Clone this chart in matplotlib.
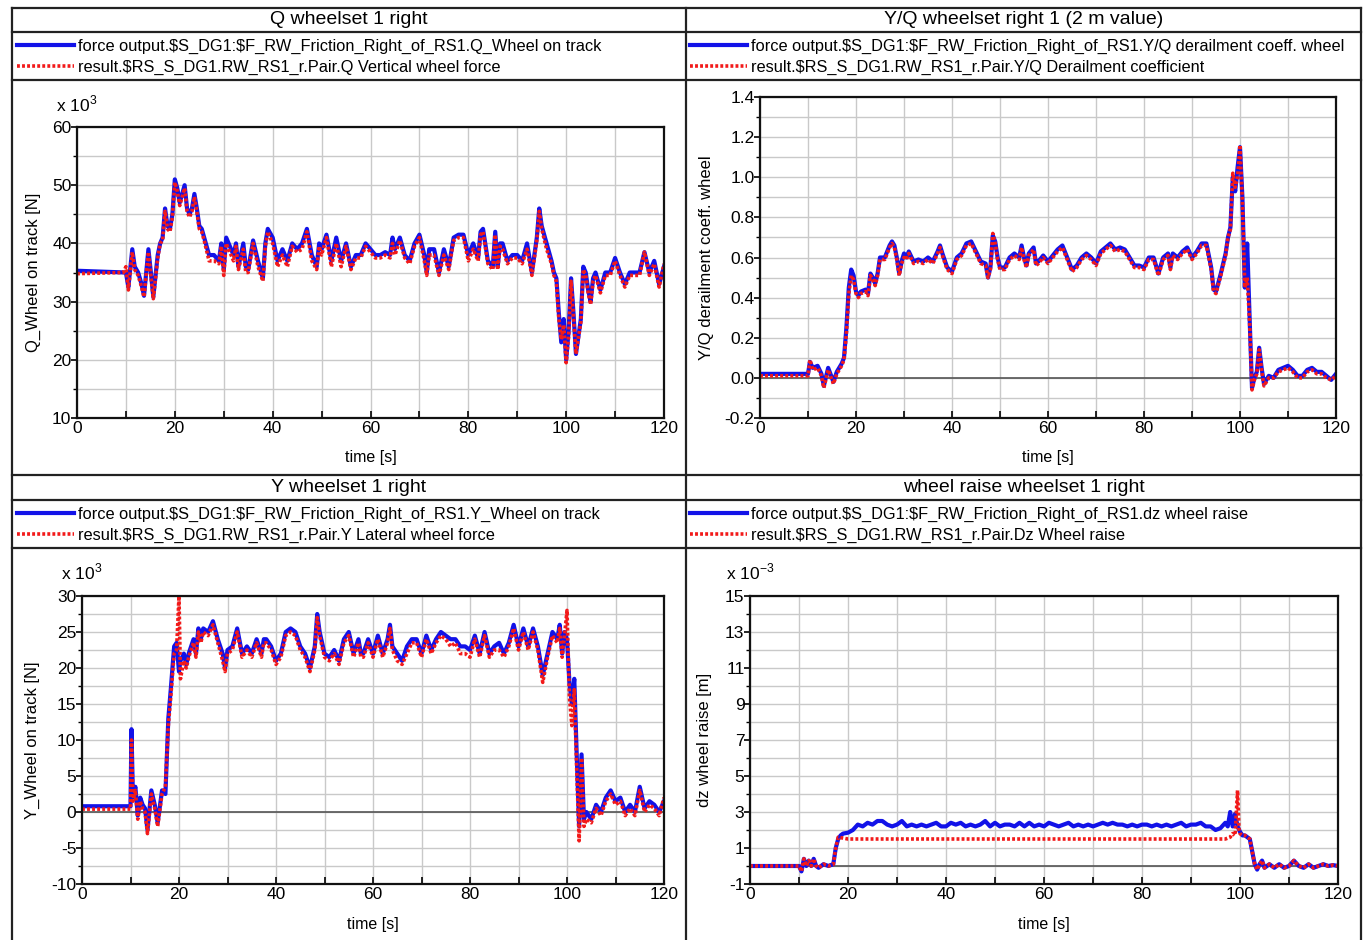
import numpy as np
import matplotlib.pyplot as plt
from matplotlib.lines import Line2D
from matplotlib.transforms import blended_transform_factory

W, H = 1364, 940

# ---- data (values as shown on the axes: Q, Y in 10^3 N, dz in 10^-3 m) ----
t_q = [0, 9.5, 10, 10.5, 11, 11.3, 11.8, 12.5, 13.2, 13.7,
       14.6, 15.1, 15.6, 16.5, 17, 17.5, 18, 18.5, 19, 19.5,
       20, 20.5, 21, 22, 22.5, 23, 23.5, 24, 24.5, 25,
       25.5, 26, 27, 28, 29, 29.5, 30, 30.5, 31, 32,
       32.5, 33, 34, 34.5, 35, 36, 37, 38, 38.5, 39,
       40, 41, 42, 43, 44, 45, 46, 47, 48, 49,
       49.5, 50, 51, 52, 53, 54, 55, 56, 57, 58,
       59, 60, 61, 62, 63, 64, 64.5, 65, 66, 67,
       68, 69, 70, 71, 71.5, 72, 73, 74, 75, 76,
       77, 78, 79, 80, 81, 82, 82.5, 83, 84, 85,
       85.5, 86, 86.5, 87, 88, 89, 90, 91, 92, 93,
       94, 94.5, 95, 96, 97, 97.5, 98, 98.5, 99, 99.5,
       100, 100.5, 101, 101.5, 102, 103, 103.5, 104, 104.5, 105,
       105.5, 106, 107, 108, 109, 110, 111, 112, 113, 114,
       115, 116, 117, 118, 119, 120]
q_blue = [35.3, 35, 35, 32.5, 36.5, 39, 36, 35, 33, 31,
          39, 35, 30.8, 38, 40, 41, 46, 43, 42.5, 45,
          51, 49.5, 47, 50, 46, 45, 46, 48.5, 46, 43,
          42.5, 41, 38, 38, 37, 40, 35.5, 41, 40, 38,
          40, 36, 40, 36, 35.5, 40.5, 37, 34, 40, 42.5,
          41, 37, 39, 37, 40, 39, 40, 42.5, 38, 36,
          40, 39, 41.5, 37, 41, 37, 40, 36, 38, 38,
          40, 39, 38, 38, 38.5, 38, 41, 39, 41, 38,
          37, 40, 41.5, 38, 35, 39, 39, 35, 39, 36,
          41, 41.5, 41.5, 38, 40, 37.5, 42, 42.5, 37, 36,
          42, 36, 40, 40, 37, 38, 38, 37, 40, 35,
          41, 46, 43, 40, 37, 35, 34, 28, 23, 27,
          20, 25, 34, 28, 21, 27, 36, 35, 32, 30,
          34, 35, 32, 35, 35, 37.5, 35, 33, 35, 35,
          35, 38.5, 35, 37, 33, 36]
q_red = [34.8, 35, 36, 32, 36, 38.5, 35.5, 34.5, 32.5, 30.8,
         38.5, 34.5, 30.5, 37.5, 40, 40.5, 45.5, 42.5, 42, 44.5,
         50.5, 49, 46.5, 49.5, 45.5, 44.5, 45.5, 48, 45.5, 42.5,
         42, 40.5, 37, 37, 36.5, 39.5, 34.5, 40, 39, 37,
         39.5, 35.5, 39, 35, 35, 40, 36, 33.5, 39.5, 42,
         40, 36, 38, 36, 39.5, 38.5, 39, 42, 37, 35.5,
         39.5, 38, 41, 36, 40, 36, 39.5, 35.5, 37.5, 37.5,
         39.5, 38.5, 37.5, 37.5, 38, 37.5, 40, 38, 40.5, 37.5,
         36.5, 39.5, 41, 37, 34.5, 38, 38, 34.5, 38, 35.5,
         40.5, 41, 41, 37, 39, 37, 41.5, 42, 36.5, 35.5,
         41.5, 35.5, 39.5, 39, 36.5, 37.5, 37.5, 36.5, 39, 34.5,
         40.5, 45.5, 42.5, 39, 36.5, 34.5, 33.5, 27, 23.5, 26,
         19.5, 24, 33.5, 27.5, 21, 26.5, 35.5, 34.5, 31.5, 29.5,
         33.5, 34.5, 31.5, 34.5, 34.5, 37, 34.5, 32.5, 34.5, 34.5,
         34.5, 38.5, 34.5, 36.5, 32.5, 36.5]

t_yq = [0, 10, 10.4, 11, 12, 12.8, 13.3, 14.2, 15.3, 16,
        17, 17.5, 18, 18.5, 19, 19.5, 20, 20.5, 21, 22,
        22.5, 23, 23.5, 24, 24.5, 25, 26, 27, 27.5, 28,
        28.5, 29, 29.5, 30, 30.5, 31, 32, 33, 34, 35,
        36, 37, 37.5, 38, 39, 40, 41, 42, 43, 44,
        45, 46, 47, 47.5, 48, 48.5, 49, 49.5, 50, 51,
        52, 53, 54, 54.5, 55, 55.5, 56, 57, 57.5, 58,
        59, 60, 61, 62, 63, 64, 65, 66, 67, 68,
        69, 70, 71, 72, 73, 74, 75, 76, 77, 78,
        79, 80, 81, 82, 83, 84, 85, 85.5, 86, 87,
        88, 89, 90, 91, 92, 93, 94, 94.5, 95, 96,
        97, 97.5, 98, 98.5, 99, 99.5, 100, 100.5, 101, 101.5,
        102, 102.5, 103, 103.5, 104, 104.5, 105, 106, 107, 108,
        109, 110, 111, 112, 113, 114, 115, 116, 117, 118,
        119, 120]
yq_blue = [0.02, 0.02, 0.08, 0.05, 0.06, 0.02, -0.04, 0.05, -0.02, 0.03,
           0.07, 0.1, 0.25, 0.45, 0.54, 0.51, 0.43, 0.41, 0.43, 0.44,
           0.42, 0.52, 0.50, 0.47, 0.52, 0.6, 0.6, 0.66, 0.68, 0.66,
           0.6, 0.52, 0.58, 0.62, 0.6, 0.63, 0.58, 0.59, 0.58, 0.6,
           0.58, 0.63, 0.66, 0.62, 0.55, 0.53, 0.6, 0.62, 0.67, 0.68,
           0.63, 0.58, 0.57, 0.5, 0.55, 0.71, 0.68, 0.6, 0.55, 0.55,
           0.6, 0.62, 0.6, 0.66, 0.6, 0.56, 0.62, 0.65, 0.57, 0.58,
           0.61, 0.58, 0.61, 0.64, 0.66, 0.6, 0.54, 0.56, 0.6, 0.62,
           0.6, 0.57, 0.63, 0.65, 0.67, 0.64, 0.65, 0.64, 0.6, 0.56,
           0.56, 0.55, 0.6, 0.6, 0.52, 0.6, 0.62, 0.55, 0.62, 0.6,
           0.63, 0.65, 0.6, 0.63, 0.67, 0.67, 0.55, 0.44, 0.43, 0.52,
           0.62, 0.7, 0.75, 1.0, 0.93, 1.05, 1.15, 0.9, 0.45, 0.67,
           0.3, -0.05, 0.0, 0.03, 0.15, 0.05, -0.03, 0.01, 0.0, 0.04,
           0.05, 0.06, 0.04, 0.01, 0.01, 0.04, 0.05, 0.03, 0.03, 0.01,
           -0.01, 0.02]
yq_red = [0.01, 0.01, 0.09, 0.04, 0.05, 0.01, -0.05, 0.04, -0.03, 0.02,
          0.06, 0.09, 0.22, 0.42, 0.51, 0.49, 0.42, 0.40, 0.42, 0.43,
          0.41, 0.51, 0.49, 0.46, 0.51, 0.59, 0.59, 0.65, 0.67, 0.65,
          0.59, 0.51, 0.57, 0.6, 0.59, 0.62, 0.57, 0.58, 0.57, 0.59,
          0.57, 0.62, 0.65, 0.61, 0.54, 0.52, 0.59, 0.61, 0.66, 0.67,
          0.62, 0.57, 0.56, 0.5, 0.54, 0.72, 0.67, 0.59, 0.54, 0.54,
          0.59, 0.61, 0.59, 0.65, 0.59, 0.55, 0.61, 0.64, 0.56, 0.57,
          0.6, 0.57, 0.6, 0.63, 0.65, 0.59, 0.53, 0.55, 0.59, 0.61,
          0.59, 0.56, 0.62, 0.64, 0.66, 0.63, 0.64, 0.63, 0.59, 0.55,
          0.55, 0.54, 0.59, 0.59, 0.51, 0.59, 0.61, 0.54, 0.61, 0.59,
          0.62, 0.64, 0.59, 0.62, 0.66, 0.66, 0.54, 0.43, 0.42, 0.51,
          0.61, 0.7, 0.74, 1.02, 0.95, 1.0, 1.16, 0.88, 0.45, 0.5,
          0.28, -0.06, -0.01, 0.02, 0.14, 0.04, -0.04, 0.0, 0.0, 0.03,
          0.04, 0.05, 0.03, 0.0, 0.0, 0.03, 0.04, 0.02, 0.02, 0.0,
          -0.01, 0.01]

t_y = [0, 10, 10.2, 10.5, 11, 11.5, 12, 12.5, 13, 13.5,
       14.3, 15, 15.6, 16.5, 17.2, 17.8, 18.3, 19, 19.5, 20,
       20.3, 21, 21.5, 22, 23, 23.5, 24, 24.5, 25, 26,
       27, 28, 29, 29.5, 30, 31, 32, 33, 34, 35,
       36, 37, 37.5, 38, 39, 40, 41, 42, 43, 44,
       45, 46, 47, 48, 48.5, 49, 50, 51, 52, 53,
       54, 55, 56, 57, 57.5, 58, 59, 60, 61, 62,
       63, 63.5, 64, 65, 66, 67, 68, 69, 70, 71,
       72, 73, 74, 75, 76, 77, 78, 79, 80, 81,
       82, 83, 84, 85, 86, 87, 88, 89, 90, 91,
       92, 93, 94, 95, 96, 97, 98, 98.5, 99, 99.5,
       100, 100.5, 101, 101.5, 102, 102.5, 103, 103.5, 104, 105,
       106, 107, 108, 109, 110, 111, 112, 113, 114, 115,
       116, 117, 118, 119, 120]
y_blue = [0.8, 0.8, 11.5, 2, 3.5, -0.5, 2, 1, 0.5, -2.5,
          3, 1, -1.5, 3, 2.5, 13, 17, 23, 23.5, 19.5,
          21, 22, 20.5, 22, 24, 22, 25.5, 24, 25.5, 25,
          26.5, 24, 22, 20, 22.5, 23, 25.5, 22, 23, 22,
          24, 22, 24, 24, 23, 21, 22, 25, 25.5, 25,
          23, 22, 20, 23, 27.5, 25, 22, 21.5, 22.5, 21,
          24, 25, 22, 24, 22, 22, 24, 22, 24.5, 22,
          24, 26, 23, 22, 21, 23, 24, 24, 22, 24.5,
          22.5, 24, 25, 24.5, 24, 24, 23, 23, 22.5, 24.5,
          22, 25, 22, 23, 23.5, 22, 23.5, 26, 23, 25.5,
          23, 25.5, 23, 19, 22, 25, 24, 26, 22, 25,
          24, 18, 15, 18.5, 8, -2, 8, -1, 0, -1,
          1, 0, 2, 3, 1.5, 2, 0, 1, 0, 3.5,
          0.5, 1.5, 1, 0, 1.5]
y_red = [0.4, 0.4, 10, 1.5, 3, -1, 1.5, 0.5, 0, -3,
         2.5, 0.5, -2, 2.5, 3.5, 12, 16, 22, 22.5, 30,
         18.5, 21, 20, 21.5, 23.5, 21.5, 25, 23.5, 25, 24.5,
         26, 23.5, 21, 19.5, 22, 22.5, 25, 21.5, 22.5, 21.5,
         23.5, 21.5, 23.5, 23.5, 22.5, 20.5, 21.5, 24.5, 25, 24.5,
         22.5, 21.5, 19.5, 22.5, 27, 24.5, 21.5, 21, 22, 20.5,
         23.5, 24.5, 21.5, 23.5, 21.5, 21.5, 23.5, 21.5, 24, 21.5,
         23.5, 25.5, 22.5, 21, 20.5, 22, 23.5, 23.5, 21.5, 24,
         22, 23.5, 24.5, 24, 23, 23.5, 22, 22, 21.5, 24,
         21.5, 24.5, 21.5, 22.5, 22.5, 21.5, 23, 25.5, 22.5, 25,
         22.5, 25, 22.5, 18, 21.5, 24.5, 23.5, 25.5, 21.5, 24.5,
         28, 16, 12, 17, 6, -4, 7.5, -2, -1, -1.5,
         0.5, -0.5, 1.5, 2.5, 1, 1.5, -0.5, 0.5, -0.5, 3,
         0, 1, 0.5, -0.5, 2]

t_dz_blue = [0, 10, 10.5, 11, 11.5, 12, 12.5, 13, 13.5, 14,
             15, 16, 17, 17.5, 18, 18.5, 19, 20, 21, 22,
             23, 24, 25, 26, 27, 28, 29, 30, 31, 32,
             33, 34, 35, 36, 37, 38, 39, 40, 41, 42,
             43, 44, 45, 46, 47, 48, 49, 50, 51, 52,
             53, 54, 55, 56, 57, 58, 59, 60, 61, 62,
             63, 64, 65, 66, 67, 68, 69, 70, 71, 72,
             73, 74, 75, 76, 77, 78, 79, 80, 81, 82,
             83, 84, 85, 86, 87, 88, 89, 90, 91, 92,
             93, 94, 95, 96, 97, 97.5, 98, 98.5, 99, 99.5,
             100, 100.5, 101, 101.5, 102, 102.5, 103, 103.5, 104, 104.5,
             105, 106, 107, 108, 109, 110, 111, 112, 113, 114,
             115, 116, 117, 118, 119, 120]
dz_blue = [0, 0, -0.3, 0.4, 0, 0.3, 0, 0.4, 0, -0.1,
           0.1, 0, 0.1, 1.0, 1.5, 1.7, 1.8, 1.85, 2.0, 2.3,
           2.2, 2.4, 2.3, 2.5, 2.5, 2.3, 2.2, 2.3, 2.5, 2.2,
           2.3, 2.2, 2.3, 2.2, 2.3, 2.4, 2.2, 2.2, 2.4, 2.3,
           2.4, 2.2, 2.3, 2.2, 2.3, 2.5, 2.2, 2.4, 2.2, 2.3,
           2.3, 2.2, 2.4, 2.2, 2.4, 2.2, 2.3, 2.2, 2.4, 2.3,
           2.2, 2.3, 2.4, 2.2, 2.3, 2.2, 2.3, 2.2, 2.3, 2.4,
           2.3, 2.4, 2.3, 2.3, 2.2, 2.3, 2.2, 2.3, 2.3, 2.2,
           2.3, 2.2, 2.3, 2.2, 2.3, 2.4, 2.2, 2.3, 2.3, 2.4,
           2.2, 2.2, 2.0, 2.1, 2.4, 2.2, 3.0, 2.2, 2.9, 2.2,
           1.9, 1.7, 1.7, 1.6, 1.5, 0.8, 0.1, -0.2, 0.1, 0.3,
           -0.1, 0.1, -0.1, 0.1, -0.1, 0, 0.3, 0, -0.1, 0.1,
           -0.1, 0, 0.1, 0, 0.05, 0]
t_dz_red = [0, 10, 10.5, 11, 11.5, 12, 12.5, 13, 13.5, 14,
            15, 16, 17, 17.5, 18, 19, 20, 97, 98, 98.5,
            99, 99.5, 99.8, 100, 100.5, 101, 101.5, 102, 102.5, 103,
            103.5, 104, 104.5, 105, 106, 107, 108, 109, 110, 111,
            112, 113, 114, 115, 116, 117, 118, 119, 120]
dz_red = [0, 0, -0.3, 0.4, 0, 0.3, 0, 0.4, 0, -0.1,
          0.1, 0, 0.1, 1.0, 1.6, 1.55, 1.5, 1.5, 1.6, 1.8,
          1.7, 4.2, 2.0, 1.8, 1.7, 1.7, 1.6, 1.5, 0.8, 0.1,
          -0.2, 0.1, 0.3, -0.1, 0.1, -0.1, 0.1, -0.1, 0, 0.3,
          0, -0.1, 0.1, -0.1, 0, 0.1, 0, 0.05, 0]

titles = ["Q wheelset 1 right", "Y/Q wheelset right 1 (2 m value)",
          "Y wheelset 1 right", "wheel raise wheelset 1 right"]
legend_labels = [
    ["force output.$S_DG1:$F_RW_Friction_Right_of_RS1.Q_Wheel on track",
     "result.$RS_S_DG1.RW_RS1_r.Pair.Q Vertical wheel force"],
    ["force output.$S_DG1:$F_RW_Friction_Right_of_RS1.Y/Q derailment coeff. wheel",
     "result.$RS_S_DG1.RW_RS1_r.Pair.Y/Q Derailment coefficient"],
    ["force output.$S_DG1:$F_RW_Friction_Right_of_RS1.Y_Wheel on track",
     "result.$RS_S_DG1.RW_RS1_r.Pair.Y Lateral wheel force"],
    ["force output.$S_DG1:$F_RW_Friction_Right_of_RS1.dz wheel raise",
     "result.$RS_S_DG1.RW_RS1_r.Pair.Dz Wheel raise"],
]
ylabels = ["Q_Wheel on track [N]", "Y/Q derailment coeff. wheel",
           "Y_Wheel on track [N]", "dz wheel raise [m]"]


def fx(x):
    return x / W


def fy(y):
    return 1 - y / H


plt.rcParams['font.family'] = ['Liberation Sans', 'DejaVu Sans']
plt.rcParams['mathtext.fontset'] = 'custom'
plt.rcParams['mathtext.rm'] = 'Liberation Sans'

BLUE = '#1212e8'
RED = '#f21a1a'
FRAME = '#222222'

fig = plt.figure(figsize=(W / 100, H / 100), dpi=100)

# panel frames
for y in [8, 32, 80, 475, 500, 548]:
    fig.add_artist(Line2D([fx(12), fx(1361)], [fy(y), fy(y)], color=FRAME, lw=1.6))
for x in [12, 686, 1361]:
    fig.add_artist(Line2D([fx(x), fx(x)], [fy(8), fy(940)], color=FRAME, lw=1.6))

# pixel boxes: left, right, top, bottom
boxes = [(77, 664, 127, 418), (760, 1336, 97, 418),
         (82, 664, 596, 884), (750, 1338, 596, 884)]
series = [(t_q, q_blue, t_q, q_red), (t_yq, yq_blue, t_yq, yq_red),
          (t_y, y_blue, t_y, y_red), (t_dz_blue, dz_blue, t_dz_red, dz_red)]
ylims = [(10, 60), (-0.2, 1.4), (-10, 30), (-1, 15)]
yticks = [np.arange(10, 61, 10), np.arange(-0.2, 1.41, 0.2),
          np.arange(-10, 31, 5), np.arange(-1, 16, 2)]
yminor = [np.arange(10, 61, 5), np.arange(-0.2, 1.41, 0.1),
          np.arange(-10, 31, 2.5), np.arange(-1, 16, 1)]
exps = [r'x 10$^{3}$', None, r'x 10$^{3}$', r'x 10$^{-3}$']
exp_pos = [(56, 104), None, (61, 572), (726, 572)]
title_y = [20, 20, 488, 488]
title_x = [349, 1024, 349, 1024]
leg_x = [17, 690, 17, 690]
leg_y = [39, 39, 507, 507]
ylab_x = [33, 707, 32, 704]
xlab_y = [457, 457, 925, 925]
zero_line = [False, True, True, True]

for i in range(4):
    l, r, t, b = boxes[i]
    ax = fig.add_axes([fx(l), fy(b), (r - l) / W, (b - t) / H])
    tb, vb, tr, vr = series[i]
    hb, = ax.plot(tb, vb, color=BLUE, lw=3.0, solid_joinstyle='round')
    hr, = ax.plot(tr, vr, color=RED, lw=2.6, linestyle=(0, (0.8, 0.6)))
    if zero_line[i]:
        ax.axhline(0, color='#555555', lw=1.2, zorder=1.5)

    ax.set_xlim(0, 120)
    ax.set_ylim(*ylims[i])
    ax.set_xticks(np.arange(0, 121, 20))
    ax.set_xticks(np.arange(0, 121, 10), minor=True)
    ax.set_yticks(yticks[i])
    ax.set_yticks(yminor[i], minor=True)
    if i == 1:
        ax.set_yticklabels([f"{v:.1f}" for v in yticks[i]])
    else:
        ax.set_yticklabels([f"{v:g}" for v in yticks[i]])
    ax.grid(True, which='both', color='#c9c9c9', lw=1.0)
    ax.set_axisbelow(True)
    ax.tick_params(axis='y', which='major', direction='out', length=4, width=1.2,
                   pad=0, labelsize=12.5)
    ax.tick_params(axis='y', which='minor', direction='out', length=3, width=1.0)
    ax.tick_params(axis='x', which='both', direction='in', length=5, width=1.2,
                   pad=2, labelsize=12.5)
    for s in ax.spines.values():
        s.set_linewidth(1.6)
        s.set_color('#111111')

    ax.set_xlabel('time [s]', fontsize=11.5)
    ax.xaxis.set_label_coords(0.5, fy(xlab_y[i]),
                              transform=blended_transform_factory(ax.transAxes, fig.transFigure))
    ax.xaxis.label.set_va('center')
    ax.set_ylabel(ylabels[i], fontsize=12)
    ax.yaxis.set_label_coords(fx(ylab_x[i]), 0.5,
                              transform=blended_transform_factory(fig.transFigure, ax.transAxes))
    ax.yaxis.label.set_va('center')

    if exps[i]:
        fig.text(fx(exp_pos[i][0]), fy(exp_pos[i][1]), exps[i], fontsize=12.5,
                 ha='left', va='center')

    fig.text(fx(title_x[i]), fy(title_y[i]), titles[i], fontsize=14,
             ha='center', va='center')

    labels = [s.replace('$', r'\$') for s in legend_labels[i]]
    ax.legend([hb, hr], labels, loc='upper left',
              bbox_to_anchor=(fx(leg_x[i]), fy(leg_y[i])),
              bbox_transform=fig.transFigure, frameon=False, fontsize=11.8,
              handlelength=3.45, handletextpad=0.3, labelspacing=0.37,
              borderpad=0, borderaxespad=0)

fig.savefig('out.png', dpi=100)
